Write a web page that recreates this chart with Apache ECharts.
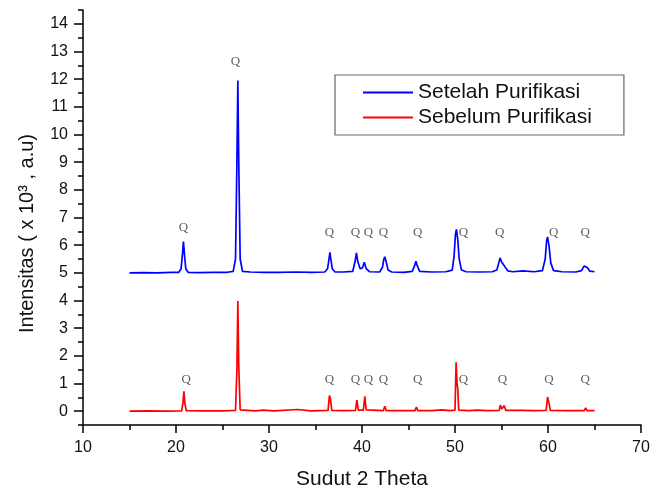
<!DOCTYPE html>
<html>
<head>
<meta charset="utf-8">
<script src="https://cdn.jsdelivr.net/npm/echarts@6.0.0/dist/echarts.min.js"></script>
<style>
  html, body { margin: 0; padding: 0; background: #fff; }
  #chart { width: 662px; height: 491px; }
</style>
</head>
<body>
<div id="chart"></div>
<script>
// tick labels
var yTicks = [0, 1, 2, 3, 4, 5, 6, 7, 8, 9, 10, 11, 12, 13, 14];
var yMinorTicks = [-0.5, 0.5, 1.5, 2.5, 3.5, 4.5, 5.5, 6.5, 7.5, 8.5, 9.5, 10.5, 11.5, 12.5, 13.5, 14.5];

var seriesNames = ["Setelah Purifikasi", "Sebelum Purifikasi"];

// Setelah Purifikasi (offset at 5)
var setelah = [
  [15.0, 5.00], [16.5, 5.01], [18.0, 5.00], [19.5, 5.02], [20.3, 5.02], [20.55, 5.15], [20.7, 5.7], [20.8, 6.13], [20.9, 5.7], [21.05, 5.15], [21.3, 5.02],
  [22.5, 5.01], [24.0, 5.02], [25.5, 5.02], [26.15, 5.05], [26.4, 5.5], [26.55, 9.0], [26.65, 11.95], [26.75, 9.0], [26.9, 5.5], [27.15, 5.05],
  [28.0, 5.03], [29.5, 5.02], [31.0, 5.02], [33.0, 5.03], [34.5, 5.02], [36.0, 5.03], [36.3, 5.15], [36.45, 5.5], [36.55, 5.74], [36.65, 5.5], [36.8, 5.15], [37.1, 5.03],
  [38.0, 5.03], [39.0, 5.05], [39.25, 5.4], [39.4, 5.72], [39.55, 5.4], [39.8, 5.15], [40.05, 5.18], [40.25, 5.38], [40.45, 5.15], [40.8, 5.04],
  [41.9, 5.03], [42.2, 5.2], [42.35, 5.5], [42.45, 5.58], [42.6, 5.4], [42.8, 5.1], [43.2, 5.03],
  [44.5, 5.02], [45.4, 5.05], [45.65, 5.25], [45.8, 5.42], [45.95, 5.25], [46.2, 5.05],
  [47.5, 5.03], [49.0, 5.04], [49.7, 5.1], [49.9, 5.6], [50.05, 6.4], [50.15, 6.57], [50.3, 6.2], [50.45, 5.5], [50.7, 5.1], [51.2, 5.04],
  [52.5, 5.03], [54.0, 5.04], [54.5, 5.1], [54.7, 5.35], [54.85, 5.54], [55.0, 5.4], [55.2, 5.3], [55.4, 5.2], [55.7, 5.07], [56.2, 5.04],
  [57.3, 5.07], [58.5, 5.04], [59.4, 5.08], [59.7, 5.5], [59.85, 6.15], [59.95, 6.3], [60.1, 6.0], [60.3, 5.35], [60.6, 5.08], [61.5, 5.04],
  [63.0, 5.03], [63.6, 5.08], [63.9, 5.25], [64.05, 5.3], [64.25, 5.18], [64.5, 5.06], [65.0, 5.04]
];

// Sebelum Purifikasi
var sebelum = [
  [15.0, 0.0], [17.0, 0.01], [19.0, 0.0], [20.6, 0.01], [20.75, 0.3], [20.85, 0.72], [20.95, 0.3], [21.1, 0.02],
  [23.0, 0.01], [25.0, 0.01], [26.4, 0.03], [26.55, 1.5], [26.65, 3.98], [26.75, 1.6], [26.9, 0.05],
  [28.5, 0.01], [29.4, 0.04], [30.5, 0.01], [33.1, 0.06], [34.5, 0.01], [36.35, 0.03], [36.5, 0.57], [36.6, 0.45], [36.75, 0.03],
  [38.0, 0.02], [39.3, 0.03], [39.45, 0.4], [39.6, 0.04], [40.15, 0.04], [40.3, 0.54], [40.45, 0.05],
  [42.3, 0.02], [42.45, 0.18], [42.6, 0.02], [45.7, 0.02], [45.85, 0.15], [46.0, 0.02],
  [47.5, 0.02], [48.6, 0.05], [49.5, 0.02], [50.0, 0.04], [50.12, 1.77], [50.22, 1.0], [50.3, 0.8], [50.4, 0.04],
  [51.5, 0.02], [52.4, 0.04], [53.5, 0.02], [54.75, 0.03], [54.88, 0.22], [55.02, 0.08], [55.18, 0.08], [55.3, 0.2], [55.45, 0.03],
  [57.2, 0.03], [58.5, 0.02], [59.8, 0.03], [59.95, 0.51], [60.1, 0.3], [60.25, 0.03],
  [62.0, 0.02], [63.9, 0.02], [64.05, 0.12], [64.2, 0.02], [65.0, 0.02]
];

// "Q" peak marks
var qSetelah = [[20.8, 6.63], [26.4, 12.64], [36.5, 6.46], [39.3, 6.46], [40.7, 6.46], [42.3, 6.46], [46.0, 6.46], [50.9, 6.46], [54.8, 6.46], [60.6, 6.46], [64.0, 6.46]];
var qSebelum = [[21.1, 1.15], [36.5, 1.15], [39.3, 1.15], [40.7, 1.15], [42.3, 1.15], [46.0, 1.15], [50.9, 1.15], [55.1, 1.15], [60.1, 1.15], [64.0, 1.15]];

var font = "Liberation Sans";

function qSeries(data) {
  return {
    type: "scatter",
    data: data,
    symbol: "circle",
    symbolSize: 1,
    silent: true,
    itemStyle: { color: "rgba(0,0,0,0)" },
    label: {
      show: true,
      position: "inside",
      formatter: "Q",
      color: "#333",
      fontSize: 13,
      fontFamily: "Liberation Serif"
    },
    z: 5
  };
}

var chart = echarts.init(document.getElementById("chart"));
chart.setOption({
  animation: false,
  backgroundColor: "#fff",
  grid: { left: 83, right: 21, top: 10, bottom: 66, containLabel: false, outerBoundsMode: "none" },
  legend: {
    data: seriesNames,
    orient: "vertical",
    left: 335,
    top: 75,
    padding: [7, 32, 7, 28],
    icon: "rect",
    itemWidth: 50,
    itemHeight: 2,
    itemGap: 4,
    borderColor: "#666",
    borderWidth: 1.2,
    textStyle: { fontSize: 21, fontFamily: font, color: "#111" }
  },
  xAxis: {
    type: "value",
    min: 10,
    max: 70,
    interval: 10,
    name: "Sudut 2 Theta",
    nameLocation: "middle",
    nameGap: 44,
    nameTextStyle: { fontSize: 21, fontFamily: font, color: "#111" },
    axisLine: { onZero: false, lineStyle: { color: "#000", width: 1.5 } },
    axisTick: { length: 8, lineStyle: { color: "#000", width: 1.5 } },
    minorTick: { show: true, splitNumber: 2, length: 5, lineStyle: { color: "#000", width: 1.5 } },
    axisLabel: { fontSize: 16, fontFamily: font, color: "#111", margin: 15 },
    splitLine: { show: false },
    minorSplitLine: { show: false }
  },
  yAxis: [
    {
      type: "value",
      min: -0.5,
      max: 14.5,
      position: "left",
      name: "Intensitas ( x 10\u00b3 , a.u)",
      nameLocation: "middle",
      nameGap: 46,
      nameTextStyle: { fontSize: 20, fontFamily: font, color: "#111", padding: [0, 32, 0, 0] },
      axisLine: { lineStyle: { color: "#000", width: 1.5 } },
      axisTick: { length: 9, lineStyle: { color: "#000", width: 1.5 }, customValues: yTicks },
      axisLabel: { fontSize: 16, fontFamily: font, color: "#111", margin: 15, customValues: yTicks },
      splitLine: { show: false }
    },
    {
      type: "value",
      min: -0.5,
      max: 14.5,
      position: "left",
      offset: 0,
      axisLine: { show: false },
      axisTick: { length: 5, lineStyle: { color: "#000", width: 1.5 }, customValues: yMinorTicks },
      axisLabel: { show: false },
      splitLine: { show: false }
    }
  ],
  series: [
    {
      name: seriesNames[0],
      type: "line",
      data: setelah,
      symbol: "none",
      lineStyle: { color: "#0000ff", width: 1.7 },
      itemStyle: { color: "#0000ff" }
    },
    {
      name: seriesNames[1],
      type: "line",
      data: sebelum,
      symbol: "none",
      lineStyle: { color: "#ff0000", width: 1.7 },
      itemStyle: { color: "#ff0000" }
    },
    qSeries(qSetelah),
    qSeries(qSebelum)
  ]
});
</script>
</body>
</html>
